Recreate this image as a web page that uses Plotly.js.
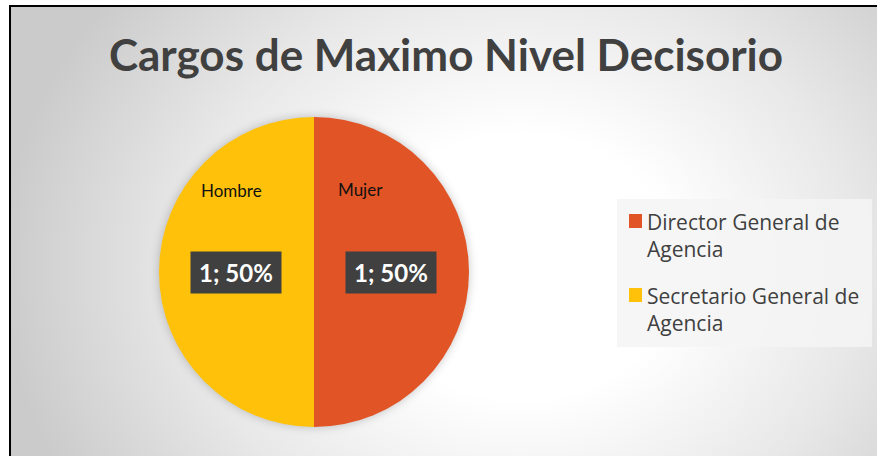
<!DOCTYPE html>
<html>
<head>
<meta charset="utf-8">
<script src="https://cdn.plot.ly/plotly-3.0.1.min.js"></script>
<style>
  html, body { margin: 0; padding: 0; background: #ffffff; width: 877px; height: 456px; overflow: hidden; }
  #bg {
    position: absolute; left: 9px; top: 5px; width: 900px; height: 480px;
    border-left: 2px solid #000; border-top: 2px solid #000;
    background: radial-gradient(ellipse 520px 440px at 510px 260px, #ffffff 0%, #ffffff 30%, #e8e8e8 65%, #cbcbcb 100%);
  }
  #chart { position: absolute; left: 0; top: 0; width: 877px; height: 456px; }
  #chart .pielayer { filter: drop-shadow(0 0 5px rgba(0,0,0,0.22)); }
</style>
</head>
<body>
<div id="bg"></div>
<div id="chart"></div>
<script>
// ---- data ----
const chartTitle = 'Cargos de Maximo Nivel Decisorio';
const cargos = ['Director General de Agencia', 'Secretario General de Agencia'];
const sexo = ['Mujer', 'Hombre'];
const valores = [1, 1];
const colores = ['#E15426', '#FFC10A'];

const total = valores.reduce((a, b) => a + b, 0);
const legendNames = cargos.map(c => c.replace(' de Agencia', ' de<br>Agencia'));

const W = 877, H = 456;
const px = x => x / W;
const py = y => 1 - y / H;

const trace = {
  type: 'pie',
  labels: cargos,
  values: valores,
  sort: false,
  direction: 'clockwise',
  rotation: 0,
  textinfo: 'none',
  hoverinfo: 'none',
  showlegend: false,
  marker: { colors: colores, line: { width: 0 } },
  domain: { x: [px(159), px(469)], y: [py(427), py(117)] }
};

// label positions for each slice
const namePos = [[360, 189], [232, 190]];
const valuePos = [[391, 272], [236, 272]];

const annotations = [];
const shapes = [];
valores.forEach((v, i) => {
  annotations.push({
    xref: 'paper', yref: 'paper', x: px(namePos[i][0]), y: py(namePos[i][1]),
    xanchor: 'center', yanchor: 'middle', showarrow: false,
    text: sexo[i], font: { family: 'Lato, sans-serif', size: 17, color: '#111111' }
  });
  annotations.push({
    xref: 'paper', yref: 'paper', x: px(valuePos[i][0]), y: py(valuePos[i][1]),
    xanchor: 'center', yanchor: 'middle', showarrow: false,
    text: '<b>' + v + '; ' + Math.round(v / total * 100) + '%</b>',
    font: { family: 'Lato, sans-serif', size: 24, color: '#ffffff' },
    bgcolor: '#404040', borderpad: 8, width: 74, height: 25
  });
});

// legend (box, swatches, wrapped names)
shapes.push({
  type: 'rect', xref: 'paper', yref: 'paper', layer: 'below',
  x0: px(617), x1: px(872), y0: py(347), y1: py(199),
  fillcolor: 'rgba(245,245,245,0.85)', line: { width: 0 }
});
const legendTop = [214, 288];
cargos.forEach((c, i) => {
  shapes.push({
    type: 'rect', xref: 'paper', yref: 'paper',
    x0: px(629), x1: px(642), y0: py(legendTop[i] + 14), y1: py(legendTop[i]),
    fillcolor: colores[i], line: { width: 0 }
  });
  annotations.push({
    xref: 'paper', yref: 'paper', x: px(645), y: py(legendTop[i] + 21),
    xanchor: 'left', yanchor: 'middle', align: 'left', showarrow: false,
    text: legendNames[i],
    font: { family: 'Open Sans, sans-serif', size: 21, color: '#404040' }
  });
});

const layout = {
  width: W, height: H,
  margin: { l: 0, r: 0, t: 0, b: 0 },
  paper_bgcolor: 'rgba(0,0,0,0)',
  plot_bgcolor: 'rgba(0,0,0,0)',
  title: {
    text: '<b>' + chartTitle + '</b>',
    x: px(446), xanchor: 'center', xref: 'paper',
    y: py(56), yanchor: 'middle', yref: 'paper',
    font: { family: 'Lato, sans-serif', size: 44, color: '#404040' }
  },
  showlegend: false,
  shapes: shapes,
  annotations: annotations
};

Plotly.newPlot('chart', [trace], layout, { displayModeBar: false, staticPlot: true });
</script>
</body>
</html>
